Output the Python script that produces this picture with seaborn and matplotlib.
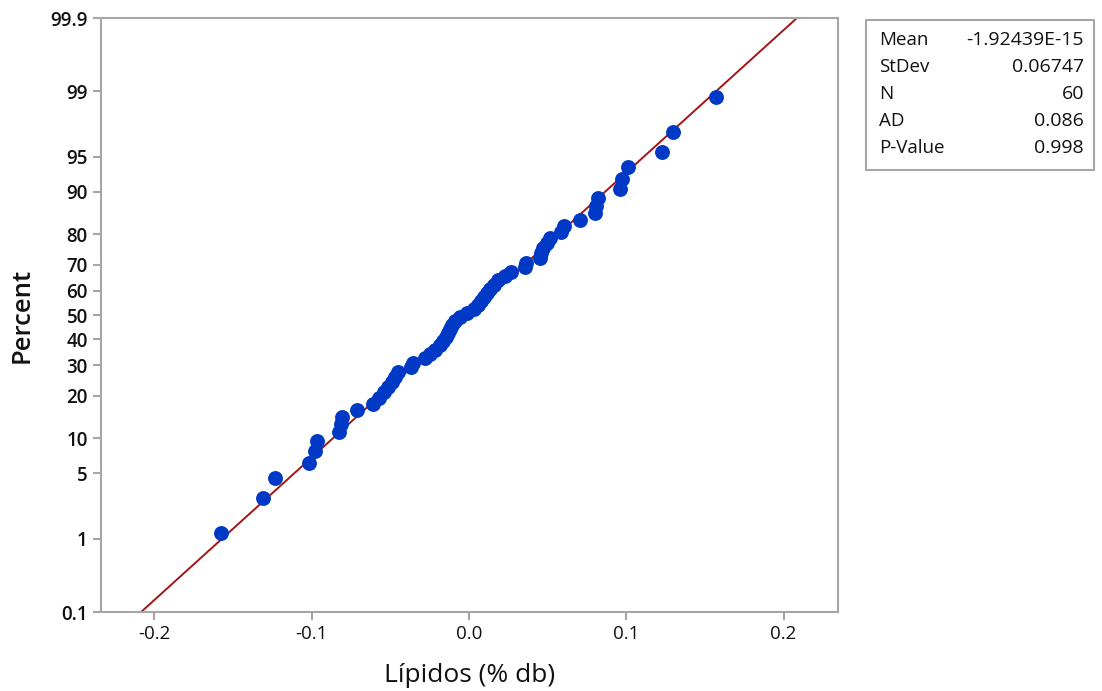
import numpy as np
import pandas as pd
import matplotlib
matplotlib.use("Agg")
import matplotlib.pyplot as plt
from matplotlib.patches import Rectangle
import seaborn as sns
from statistics import NormalDist

# ---- data ----
lipidos = [-0.1577, -0.1310, -0.1233, -0.1017, -0.0979, -0.0966, -0.0826, -0.0814, -0.0807, -0.0712,
           -0.0610, -0.0572, -0.0540, -0.0515, -0.0490, -0.0470, -0.0451, -0.0369, -0.0356, -0.0280,
           -0.0248, -0.0216, -0.0184, -0.0165, -0.0146, -0.0134, -0.0121, -0.0108, -0.0089, -0.0057,
           -0.0013, 0.0032, 0.0057, 0.0076, 0.0095, 0.0114, 0.0134, 0.0159, 0.0184, 0.0229,
           0.0267, 0.0356, 0.0362, 0.0451, 0.0458, 0.0470, 0.0496, 0.0515, 0.0585, 0.0604,
           0.0706, 0.0801, 0.0807, 0.0820, 0.0960, 0.0973, 0.1011, 0.1227, 0.1297, 0.1570]
mean_val = -1.92439e-15
stdev_val = 0.06747
stat_labels = ["Mean", "StDev", "N", "AD", "P-Value"]
stat_values = ["-1.92439E-15", "0.06747", "60", "0.086", "0.998"]
y_ticks = [0.1, 1, 5, 10, 20, 30, 40, 50, 60, 70, 80, 90, 95, 99, 99.9]
x_ticks = [-0.2, -0.1, 0.0, 0.1, 0.2]

nd = NormalDist()
n = len(lipidos)
xs = np.sort(np.array(lipidos))
ranks = np.arange(1, n + 1)
percent = (ranks - 0.3) / (n + 0.4) * 100.0
df = pd.DataFrame({"x": xs, "p": percent})

z_line = np.linspace(-3.4, 3.4, 200)
line_df = pd.DataFrame({"x": mean_val + stdev_val * z_line,
                        "p": [nd.cdf(z) * 100 for z in z_line]})

_ppf = np.frompyfunc(lambda v: nd.inv_cdf(min(max(v / 100.0, 1e-12), 1 - 1e-12)), 1, 1)
_cdf = np.frompyfunc(lambda v: nd.cdf(v) * 100.0, 1, 1)

def fwd(p):
    return np.asarray(_ppf(np.asarray(p, dtype=float)), dtype=float)

def inv(z):
    return np.asarray(_cdf(np.asarray(z, dtype=float)), dtype=float)

sns.set_theme(style="white")
plt.rcParams['font.family'] = ['Open Sans', 'DejaVu Sans']

fig = plt.figure(figsize=(11.02, 6.91), dpi=100)
ax = fig.add_axes([101 / 1102, 1 - 612 / 691, (838 - 101) / 1102, (612 - 18) / 691])

sns.lineplot(data=line_df, x="x", y="p", ax=ax, color="#A31515", linewidth=1.4, sort=False)
sns.scatterplot(data=df, x="x", y="p", ax=ax, color="#0039C6", s=115, edgecolor="#0039C6",
                linewidth=0, zorder=3)

ax.set_yscale("function", functions=(fwd, inv))
ax.set_ylim(0.1, 99.9)
ax.set_xlim(-0.234, 0.2346)
ax.set_yticks(y_ticks)
ax.set_yticklabels([("%g" % t) for t in y_ticks])
ax.set_xticks(x_ticks)
ax.set_xticklabels(["-0.2", "-0.1", "0.0", "0.1", "0.2"])
ax.minorticks_off()

for sp in ax.spines.values():
    sp.set_color("#A6A6A6")
    sp.set_linewidth(1.5)
ax.tick_params(axis="both", which="major", direction="out", length=6, width=1.5,
               color="#A6A6A6", labelsize=13.5, labelcolor="#111111", left=True, bottom=True)
for lbl in ax.get_yticklabels():
    lbl.set_fontweight("semibold")

ax.set_xlabel("Lípidos (% db)", fontsize=19, color="#111111", labelpad=14)
ax.set_ylabel("Percent", fontsize=18.5, color="#111111", labelpad=11, fontweight="semibold")

# stats box
fig.patches.append(Rectangle((866 / 1102, 1 - 170 / 691), (1094 - 866) / 1102, (170 - 20) / 691,
                             transform=fig.transFigure, facecolor="white", edgecolor="#A6A6A6",
                             linewidth=1.5))
row_y = [40, 67, 94, 121, 148]
for lab, val, yy in zip(stat_labels, stat_values, row_y):
    fig.text(879 / 1102, 1 - yy / 691, lab, ha="left", va="center", fontsize=13.5, color="#111111")
    fig.text(1084 / 1102, 1 - yy / 691, val, ha="right", va="center", fontsize=14, color="#111111")

fig.savefig("out.png", dpi=100, facecolor="white")
